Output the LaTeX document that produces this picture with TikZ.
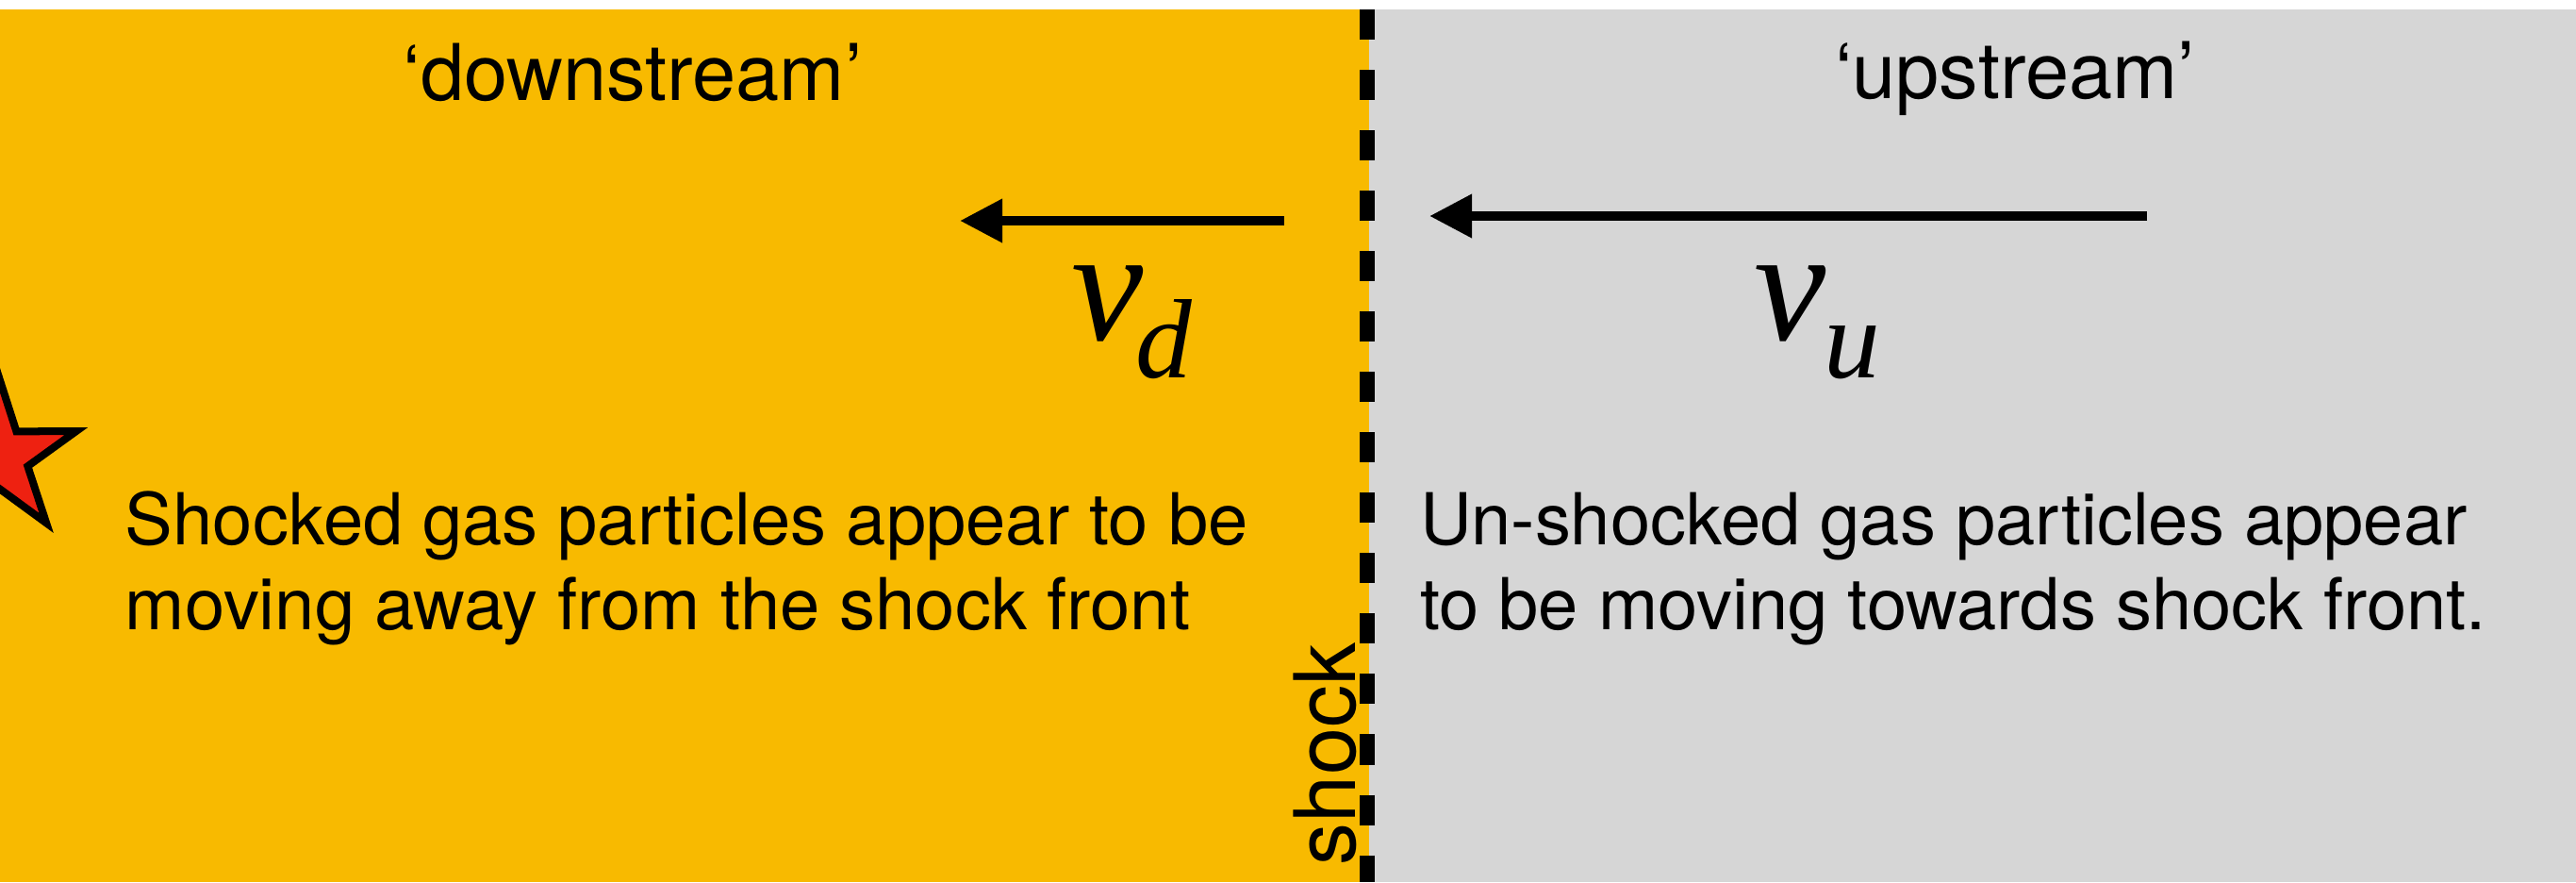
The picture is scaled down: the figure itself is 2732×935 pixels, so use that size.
\documentclass[tikz,border=0pt]{standalone}
\usepackage{fontspec}
\setmainfont{TeX Gyre Heros}
\newfontfamily\velfont{Liberation Serif Italic}
\usetikzlibrary{arrows.meta,calc}
\definecolor{downcol}{HTML}{F8BA00}
\definecolor{upcol}{HTML}{D6D6D6}
\definecolor{starred}{HTML}{EE2111}
\begin{document}
\begin{tikzpicture}[x=0.01cm,y=-0.01cm,
  bodytext/.style={inner sep=0pt, outer sep=0pt, anchor=base west, font=\fontsize{21.6}{25.6}\selectfont},
  headtext/.style={inner sep=0pt, outer sep=0pt, anchor=base, font=\fontsize{23.6}{28}\selectfont},
  velmain/.style={inner sep=0pt, outer sep=0pt, anchor=base west, font=\velfont\fontsize{48.8}{52}\selectfont},
  velsub/.style={inner sep=0pt, outer sep=0pt, anchor=base west, font=\velfont\fontsize{34}{36}\selectfont},
  velarrow/.style={line width=0.1cm, -{Triangle[length=0.45cm,width=0.44cm]}},
  shockline/.style={line width=0.16cm, dash pattern=on 0.32cm off 0.32cm},
  starstyle/.style={draw=black, line width=0.08cm, fill=starred, miter limit=10}
]
\useasboundingbox (0,0) rectangle (2732,935);
\clip (0,0) rectangle (2732,935);
% regions
\fill[white] (0,0) rectangle (2732,935);
\fill[downcol] (0,10) rectangle (1452,935);
\fill[upcol] (1452,10) rectangle (2732,935);
% star (partly outside the picture)
\coordinate (starc) at (-2,484);
\draw[starstyle] ($(starc)+(270:87)$)
  \foreach \k in {1,...,9} {
    -- ($(starc)+(270+36*\k:{ifthenelse(mod(\k,2)==0,87,33)})$)
  } -- cycle;
% shock front
\coordinate (shocktop) at (1450,10);
\coordinate (shockbot) at (1450,935);
\draw[shockline] (shocktop) -- (shockbot);
\node[inner sep=0pt, outer sep=0pt, anchor=base west, rotate=90, font=\fontsize{25.6}{30}\selectfont] (shocklbl) at (1437,917) {shock};
% headers
\node[headtext] (down) at (671,106) {‘downstream’};
\node[headtext] (up) at (2137,104) {‘upstream’};
% velocity arrows
\coordinate (vdtail) at (1362,234);
\coordinate (vdtip) at (1018,234);
\draw[velarrow] (vdtail) -- (vdtip);
\coordinate (vutail) at (2277,229);
\coordinate (vutip) at (1516,229);
\draw[velarrow] (vutail) -- (vutip);
% velocity labels
\node[velmain] (vd) at (1136,360) {v};
\node[velsub] (vdsub) at (1204,400) {d};
\node[velmain] (vu) at (1860,360) {v};
\node[velsub] (vusub) at (1934,400) {u};
% descriptions
\node[bodytext] (dl1) at (133,577) {Shocked gas particles appear to be};
\node[bodytext] (dl2) at (133,667) {moving away from the shock front};
\node[bodytext] (ul1) at (1506,577) {Un-shocked gas particles appear};
\node[bodytext] (ul2) at (1506,667) {to be moving towards shock front.};
\end{tikzpicture}
\end{document}
